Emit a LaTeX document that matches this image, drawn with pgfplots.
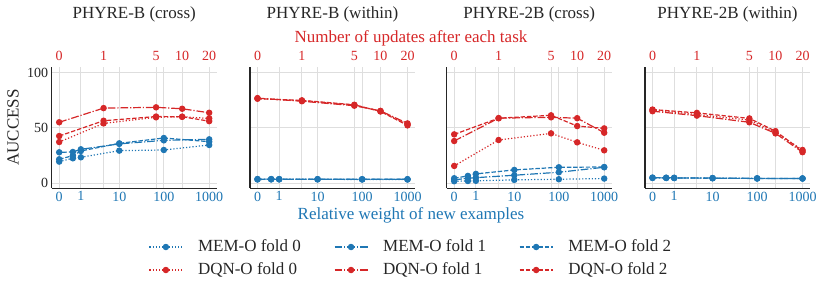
\documentclass[border=0pt]{standalone}
\usepackage{pgfplots}
\pgfplotsset{compat=1.18}
\usepackage{fontspec}
\setmainfont{Liberation Serif}
\definecolor{tblue}{HTML}{1F77B4}
\definecolor{tred}{HTML}{D62728}
\definecolor{txt}{HTML}{262626}

\pgfplotsset{
  common/.style={
    scale only axis, width=165pt, height=121.3pt,
    xmin=-7.5, xmax=157.5, ymin=-4.5, ymax=105,
    major tick length=0pt,
    grid style={draw=black!13, line width=1.1pt},
    tick label style={font=\fontsize{14}{14}\selectfont},
    /pgf/number format/assume math mode=true,
    clip=false,
  },
  panel/.style={
    common,
    axis x line*=bottom, axis y line*=left,
    axis line style={draw=txt, line width=1.3pt, -},
    xtick={0,21.68,60.08,104.65,150},
    xticklabels={0,1,10,100,1000},
    xticklabel style={text=tblue},
    ytick={0,50,100}, yticklabels={},
    yticklabel style={text=txt},
    grid=major,
  },
  toppanel/.style={
    common,
    axis x line*=top, axis y line=none,
    axis line style={draw=none},
    xtick={0,44.4,96.86,122.98,150},
    xticklabels={0,1,5,10,20},
    xticklabel style={text=tred, yshift=3pt},
    ytick=\empty,
    xmajorgrids,
  },
  base/.style={line width=1.2pt, mark=*, mark size=2.6pt, mark options={solid}},
  f0/.style={base, dash pattern=on 1.2pt off 2pt},
  f1/.style={base, dash pattern=on 7.7pt off 1.9pt on 1.2pt off 1.9pt},
  f2/.style={base, dash pattern=on 4.4pt off 1.9pt},
}
\newcommand{\ptitle}[1]{\node[font=\fontsize{17}{17}\selectfont, text=txt] at (axis description cs:0.5,1.430) {#1};}

\begin{document}
\begin{tikzpicture}
\useasboundingbox (0,0) rectangle (822pt,-291pt);

% ---------------- Panel 1 ----------------
\begin{axis}[toppanel, at={(51.7pt,-188.2pt)}, anchor=south west]
\end{axis}
\begin{axis}[panel, at={(51.7pt,-188.2pt)}, anchor=south west, yticklabels={0,50,100}]
\addplot[tblue, f0] coordinates {(0,19.5) (13.68,22.5) (21.68,23.4) (60.08,29.4) (104.65,30) (150,34.5)};
\addplot[tblue, f1] coordinates {(0,27.9) (13.68,28.2) (21.68,30.6) (60.08,35.5) (104.65,38.7) (150,39.6)};
\addplot[tblue, f2] coordinates {(0,21.6) (13.68,24.9) (21.68,29.1) (60.08,36) (104.65,40.8) (150,37.5)};
\addplot[tred, f0] coordinates {(0,37.2) (44.4,54) (96.86,59.5) (122.98,60) (150,58.5)};
\addplot[tred, f1] coordinates {(0,55) (44.4,67.8) (96.86,68.5) (122.98,67.2) (150,63.6)};
\addplot[tred, f2] coordinates {(0,42.6) (44.4,56.4) (96.86,60.2) (122.98,60) (150,56)};
\ptitle{PHYRE-B (cross)}
\node[rotate=90, font=\fontsize{17}{17}\selectfont, text=txt] at (axis description cs:-0.2345,0.5) {AUCCESS};
\end{axis}

% ---------------- Panel 2 ----------------
\begin{axis}[toppanel, at={(250pt,-188.2pt)}, anchor=south west]
\end{axis}
\begin{axis}[panel, at={(250pt,-188.2pt)}, anchor=south west,
  legend columns=3,
  legend style={at={(axis description cs:0.9758,-0.5796)}, anchor=center, draw=none, fill=none,
    font=\fontsize{17}{17}\selectfont, text=txt,
    nodes={text height=12pt, text depth=3pt, inner sep=2pt},
    row sep=4pt,
    /tikz/every odd column/.append style={column sep=13pt},
    /tikz/every even column/.append style={column sep=31pt}},
  legend cell align=left,
  legend image code/.code={\draw[mark repeat=2,mark phase=2,#1] plot coordinates {(0pt,0pt) (16.5pt,0pt) (33pt,0pt)};},
  legend entries={MEM-O fold 0, MEM-O fold 1, MEM-O fold 2, DQN-O fold 0, DQN-O fold 1, DQN-O fold 2}]
\addplot[tblue, f0] coordinates {(0,3.4) (13.68,3.5) (21.68,3.5) (60.08,3.5) (104.65,3.4) (150,3.4)};
\addplot[tblue, f1] coordinates {(0,3.6) (13.68,3.6) (21.68,3.6) (60.08,3.6) (104.65,3.5) (150,3.5)};
\addplot[tblue, f2] coordinates {(0,3.7) (13.68,3.7) (21.68,3.7) (60.08,3.6) (104.65,3.6) (150,3.6)};
\addplot[tred, f0] coordinates {(0,76.5) (44.4,74.5) (96.86,70.5) (122.98,65) (150,53)};
\addplot[tred, f1] coordinates {(0,76.8) (44.4,74) (96.86,70) (122.98,65.3) (150,54)};
\addplot[tred, f2] coordinates {(0,76.3) (44.4,74.8) (96.86,70.8) (122.98,64.8) (150,52.2)};
\ptitle{PHYRE-B (within)}
\end{axis}

% ---------------- Panel 3 ----------------
\begin{axis}[toppanel, at={(446.7pt,-188.2pt)}, anchor=south west]
\end{axis}
\begin{axis}[panel, at={(446.7pt,-188.2pt)}, anchor=south west]
\addplot[tblue, f0] coordinates {(0,1.8) (13.68,2) (21.68,2.2) (60.08,3) (104.65,3.6) (150,4.2)};
\addplot[tblue, f1] coordinates {(0,3) (13.68,4.5) (21.68,5) (60.08,7.2) (104.65,9.9) (150,14.4)};
\addplot[tblue, f2] coordinates {(0,4.5) (13.68,6.6) (21.68,8.4) (60.08,12) (104.65,14.4) (150,14.6)};
\addplot[tred, f0] coordinates {(0,15.6) (44.4,39) (96.86,45) (122.98,36.9) (150,29.7)};
\addplot[tred, f1] coordinates {(0,38.1) (44.4,58.7) (96.86,59.5) (122.98,58.7) (150,45.6)};
\addplot[tred, f2] coordinates {(0,44.1) (44.4,58.7) (96.86,61.3) (122.98,51.6) (150,49.5)};
\ptitle{PHYRE-2B (cross)}
\end{axis}

% ---------------- Panel 4 ----------------
\begin{axis}[toppanel, at={(645pt,-188.2pt)}, anchor=south west]
\end{axis}
\begin{axis}[panel, at={(645pt,-188.2pt)}, anchor=south west]
\addplot[tblue, f0] coordinates {(0,4.8) (13.68,4.8) (21.68,4.7) (60.08,4.6) (104.65,4.3) (150,4.3)};
\addplot[tblue, f1] coordinates {(0,5) (13.68,4.9) (21.68,4.8) (60.08,4.6) (104.65,4.4) (150,4.2)};
\addplot[tblue, f2] coordinates {(0,4.9) (13.68,4.8) (21.68,4.8) (60.08,4.5) (104.65,4.3) (150,4.3)};
\addplot[tred, f0] coordinates {(0,66) (44.4,62) (96.86,57) (122.98,46) (150,30)};
\addplot[tred, f1] coordinates {(0,65) (44.4,61) (96.86,55) (122.98,45) (150,28)};
\addplot[tred, f2] coordinates {(0,66.5) (44.4,63.5) (96.86,58.5) (122.98,47) (150,29)};
\ptitle{PHYRE-2B (within)}
\end{axis}

\node[font=\fontsize{17}{17}\selectfont, text=tred] at (411pt,-38.5pt) {Number of updates after each task};
\node[font=\fontsize{17}{17}\selectfont, text=tblue] at (411pt,-215pt) {Relative weight of new examples};
\end{tikzpicture}
\end{document}
